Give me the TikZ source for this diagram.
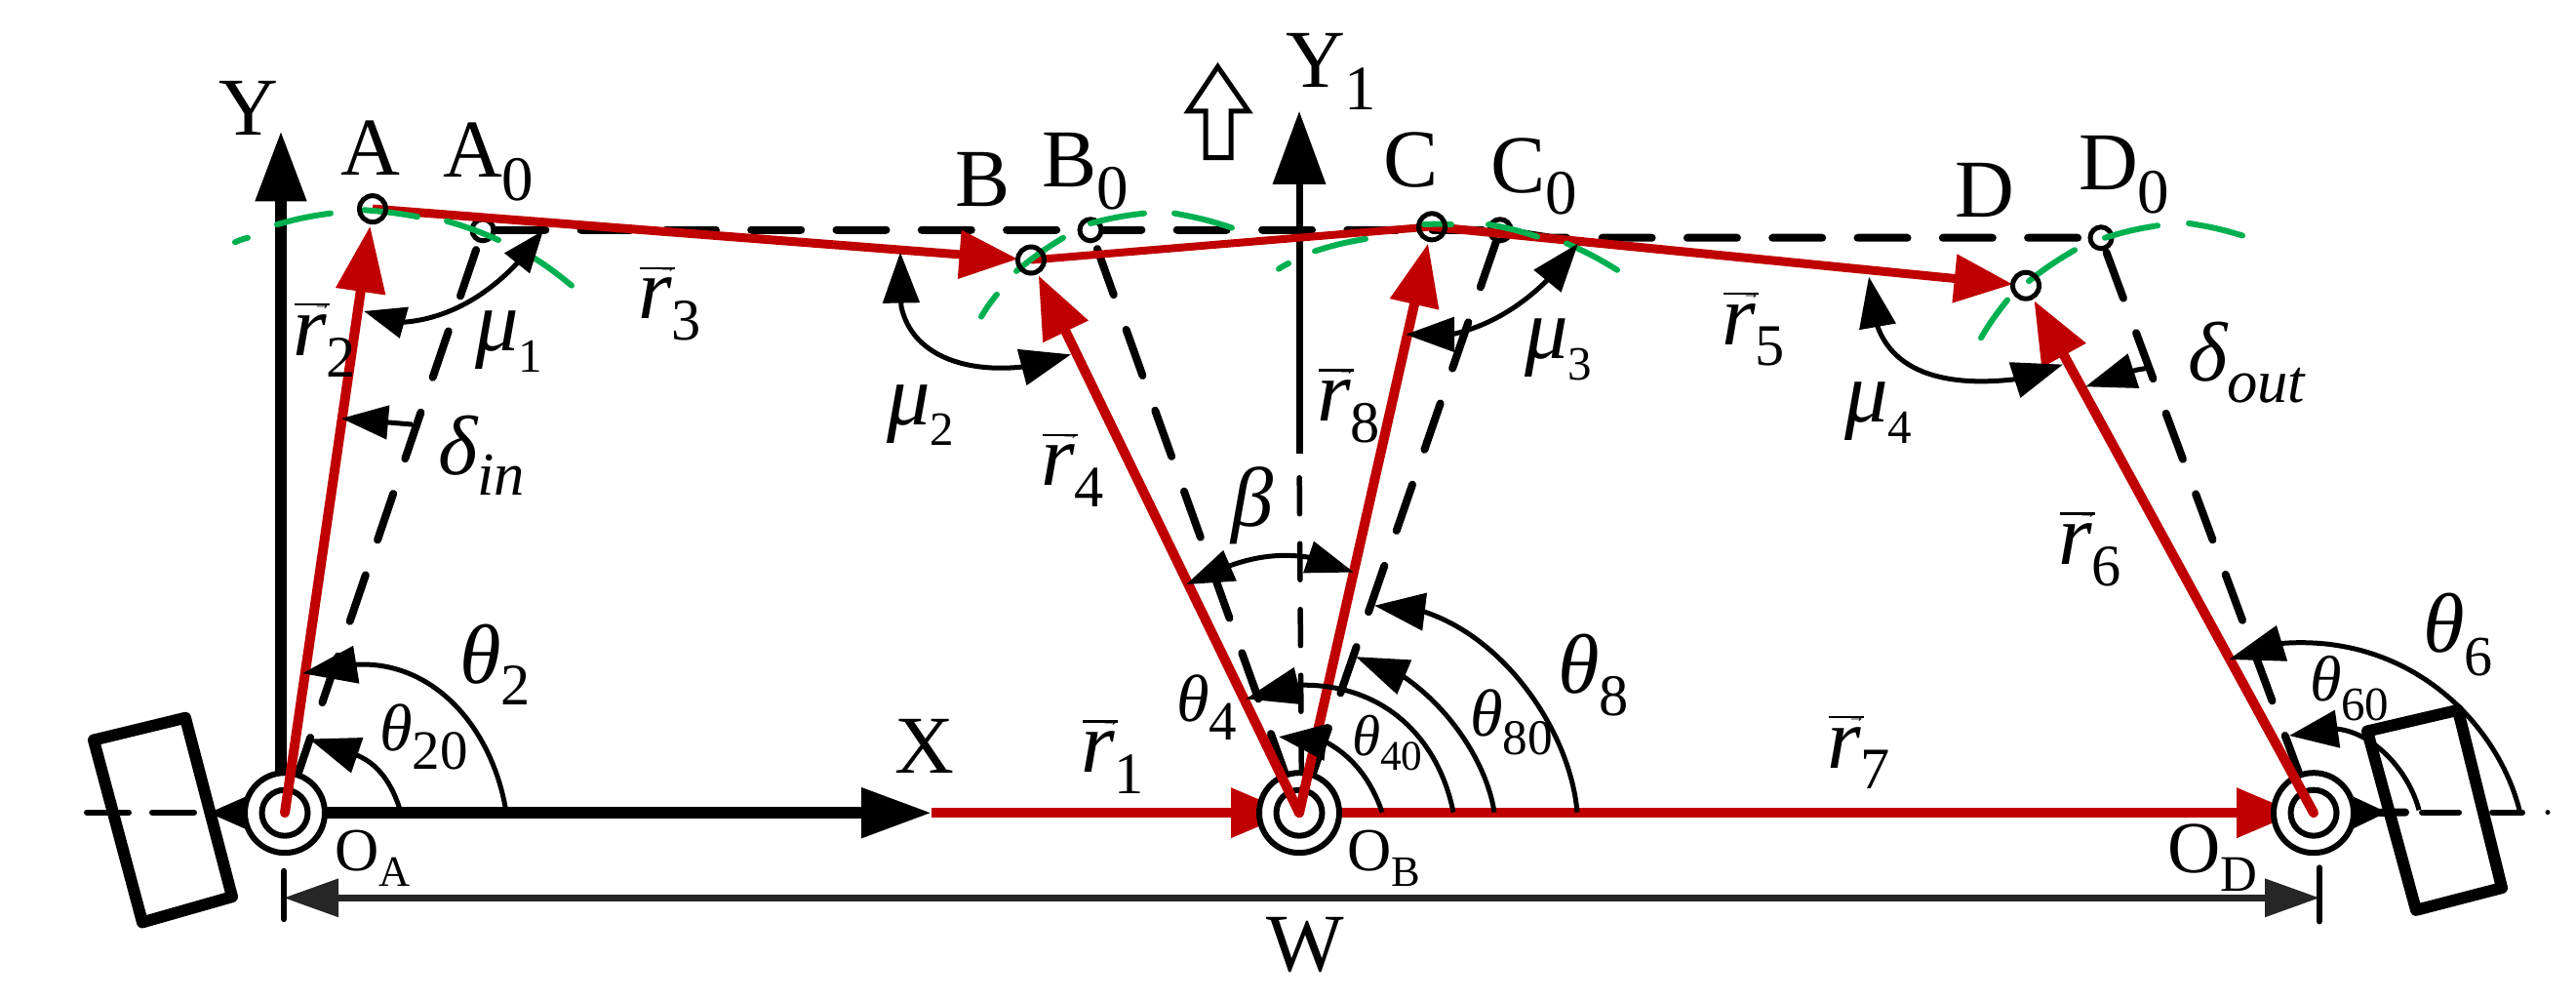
\documentclass[tikz,border=0pt]{standalone}
\usepackage{fontspec}
\setmainfont{Liberation Serif}
\usetikzlibrary{arrows.meta}
\definecolor{rd}{HTML}{C00000}
\definecolor{gn}{HTML}{00B050}
\definecolor{dimc}{HTML}{262626}
\pgfdeclarelayer{bot}
\pgfdeclarelayer{mid}
\pgfdeclarelayer{hub}
\pgfdeclarelayer{top}
\pgfsetlayers{bot,mid,hub,main,top}
\newcommand\fs[1]{\fontsize{\fpeval{#1*1.139}}{\fpeval{#1*1.139}}\selectfont}
\newcommand\sbs[3]{\raisebox{-\fpeval{#2*1.139}pt}{\fs{#1}#3}}
\newcommand\rv[1]{\makebox[0pt][l]{\hspace{2pt}\raisebox{51pt}{\rule{36pt}{2.2pt}}}\makebox[0pt][l]{\hspace{21pt}\raisebox{47pt}{\fs{16}→}}{\fs{78}\itshape r}\sbs{53}{19}{#1}}
\newcommand\gk[2]{{\fs{#1}\itshape #2}}
\tikzset{
  lbl/.style={anchor=base west,inner sep=0pt,outer sep=0pt,font=\fs{74}},
  hubo/.style={circle,draw=black,fill=white,line width=6pt,minimum size=82pt,inner sep=0pt,outer sep=0pt},
  hubi/.style={circle,draw=black,line width=6pt,minimum size=47pt,inner sep=0pt,outer sep=0pt},
  joint/.style={circle,draw=black,line width=5pt,minimum size=27pt,inner sep=0pt,outer sep=0pt},
  joint0/.style={circle,draw=black,fill=white,line width=5pt,minimum size=22pt,inner sep=0pt,outer sep=0pt},
  redarr/.style={draw=rd,line width=10pt,line cap=round,shorten >=4pt,-{Triangle[length=64pt,width=49pt,color=rd]}},
  redh/.style={draw=rd,line width=10pt,-{Triangle[length=62pt,width=49pt,color=rd]}},
  redt/.style={draw=rd,line width=9pt,-{Triangle[length=60pt,width=48pt,color=rd]}},
  axis/.style={draw=black,line width=11.5pt},
  dsh/.style={draw=black,line width=8pt,line cap=round,dash pattern=on 50pt off 38pt,dash phase=#1},
  ang/.style n args={2}{draw=black,line width=5pt,-{Triangle[length=#1,width=#2]}},
  angd/.style n args={2}{draw=black,line width=5pt,{Triangle[length=#1,width=#2]}-{Triangle[length=#1,width=#2]}},
  grn/.style={draw=gn,line width=6pt,line cap=round},
  tire/.style={draw=black,line width=12pt,line join=round},
}
\begin{document}
\begin{tikzpicture}[x=1pt,y=-1.139pt]
\useasboundingbox (0,0) rectangle (2641,899.9);
% named points
\coordinate (Ya) at (288,731);
\coordinate (Yt) at (288,118);
\coordinate (Xa) at (291,731.5);
\coordinate (Xt) at (955,731.5);
\coordinate (Y1a) at (1332,408);
\coordinate (Y1t) at (1332,100);
\coordinate (Y1b) at (1334.5,720);
\coordinate (Ck) at (1590,214);
\coordinate (TL) at (213,731.5);
\coordinate (TR) at (2447,731);
\coordinate (TRb) at (2466,731);
\coordinate (DL) at (291,808);
\coordinate (DR) at (2378,808);
% hubs and joints
\begin{pgfonlayer}{hub}
\node[hubo] (OA) at (292,731.5) {};
\node[hubo] (OB) at (1332,731.5) {};
\node[hubo] (OD) at (2372,731.5) {};
\node[hubi] (OAi) at (292,731.5) {};
\node[hubi] (OBi) at (1332,731.5) {};
\node[hubi] (ODi) at (2372,731.5) {};
\end{pgfonlayer}
\begin{pgfonlayer}{mid}
\node[joint0] (A0) at (495,207) {};
\node[joint0] (B0) at (1118,207) {};
\node[joint0] (C0) at (1538,207) {};
\node[joint0] (D0) at (2154,214) {};
\end{pgfonlayer}
\begin{pgfonlayer}{top}
\node[joint] (A) at (382,188) {};
\node[joint] (B) at (1057,234) {};
\node[joint] (C) at (1468,204) {};
\node[joint] (D) at (2077,257) {};
\end{pgfonlayer}
% bottom layer: centre lines, axes, dashed reference linkage
\begin{pgfonlayer}{bot}
\draw[axis,-{Triangle[length=72pt,width=50pt]}] (Ya) -- (Yt);
\draw[axis,-{Triangle[length=72pt,width=49pt]}] (Xa) -- (Xt);
\draw[draw=black,line width=7pt,-{Triangle[length=75pt,width=53pt]}] (Y1a) -- (Y1t);
\draw[draw=black,line width=5.5pt,line cap=round,dash pattern=on 37pt off 30.5pt,dash phase=42.5pt] (Y1a) -- (Y1b);
\draw[draw=black,line width=8pt,line cap=round,dash pattern=on 51pt off 36.3pt,dash phase=74pt]
  (A0.center) -- (B0.center) -- (C0.center) -- (Ck) -- (D0.center);
\draw[dsh=66.5pt] (A0.center) -- (OA.center);
\draw[dsh=67.5pt] (B0.center) -- (OB.center);
\draw[dsh=76pt] (C0.center) -- (OB.center);
\draw[dsh=72pt] (D0.center) -- (OD.center);
\draw[draw=black,line width=6pt,line cap=round,dash pattern=on 43pt off 24pt] (89,731) -- (200,731);
\draw[draw=black,line width=6pt,line cap=round,dash pattern=on 38pt off 34pt] (2483,731) -- (2586,731);
\fill[black] (2612,731) circle[radius=2.5pt];
\draw[axis,-{Triangle[length=62pt,width=50pt]}] (OA.center) -- (TL);
\draw[draw=black,line width=8pt,line cap=round] (OD.center) -- (TRb);
\draw[draw=black,line width=1pt,-{Triangle[length=36pt,width=34pt]}] (OD.center) -- (TR);
\draw[redh,shorten >=-33pt] (Xt) -- (OB);
\draw[redh,shorten >=-24pt] (OB.center) -- (OD);
\end{pgfonlayer}
% red vectors
\draw[redarr,{}-{Triangle[length=68pt,width=49pt,color=rd]}] (OA.center) -- (A);
\draw[redarr] (OB.center) -- (B);
\draw[redarr] (OB.center) -- (C);
\draw[redarr] (OD.center) -- (D);
\draw[redt] (A.center) -- (B);
\draw[draw=rd,line width=8pt] (B.center) -- (C.center);
\draw[redt] (C.center) -- (D);
% green arcs
\draw[grn] (241,218) to[bend left=6] (254,214);
\draw[grn] (284,202) to[bend left=4] (339,192);
\draw[grn] (373,189) to[bend left=3] (428,195);
\draw[grn] (458,199) to[bend left=4] (511,216);
\draw[grn] (540,228) to[bend left=4] (586,257);
\draw[grn] (1006,285) to[bend left=4] (1022,265);
\draw[grn] (1042,244) to[bend left=4] (1090,214);
\draw[grn] (1118,201) to[bend left=4] (1173,192);
\draw[grn] (1204,192) to[bend left=4] (1263,205);
\draw[grn] (1311,242) to[bend left=4] (1321,237);
\draw[grn] (1348,226) to[bend left=4] (1400,215);
\draw[grn] (1460,202) to[bend left=3] (1488,202);
\draw[grn] (1526,202) to[bend left=4] (1576,213);
\draw[grn] (1606,219) to[bend left=4] (1658,243);
\draw[grn] (2031,304) to[bend left=4] (2058,270);
\draw[grn] (2080,253) to[bend left=4] (2127,225);
\draw[grn] (2158,214) to[bend left=4] (2212,203);
\draw[grn] (2244,201) to[bend left=4] (2299,212);
% angle marks
\begin{pgfonlayer}{top}
\draw[ang={56pt}{38pt}] (519,731) .. controls (505,655) and (445,595) .. (366,598) -- (310,606);
\draw[ang={52pt}{37pt}] (411,731) .. controls (402,705) and (388,688) .. (367,680) -- (317,665);
\draw[angd={43pt}{32pt}] (373,280) -- (413,290) .. controls (460,287) and (500,265) .. (530,237) -- (557,207.5);
\draw[ang={48pt}{34pt}] (423,382) -- (350,376.5);
\draw[angd={49pt}{33pt}] (1216,526) -- (1261,509) .. controls (1290,500) and (1315,498) .. (1342,501.5) -- (1388,515);
\draw[ang={56pt}{38pt}] (1490,731) .. controls (1475,665) and (1420,616) .. (1335,616.5) -- (1277,629);
\draw[ang={49pt}{37pt}] (1417,731) .. controls (1405,700) and (1385,680) .. (1360,668) -- (1311,663);
\draw[ang={54pt}{37pt}] (1532,731) .. controls (1525,690) and (1490,640) .. (1440,609.5) -- (1390,591);
\draw[ang={52pt}{38pt}] (1617,731) .. controls (1610,660) and (1545,575) .. (1460,550.5) -- (1409,545);
\draw[angd={52pt}{37pt}] (923,227) -- (924,276) .. controls (935,320) and (990,336) .. (1050,330) -- (1098,319);
\draw[angd={50pt}{35pt}] (1441,301) -- (1488,301) .. controls (1530,293) and (1565,272) .. (1592,247) -- (1618,219);
\draw[angd={52pt}{37pt}] (1916,249) -- (1925,294) .. controls (1940,330) and (1985,350) .. (2069,341) -- (2115,328);
\draw[ang={52pt}{36pt}] (2203,331) -- (2190,333) -- (2138,348);
\draw[ang={57pt}{37pt}] (2583,729) .. controls (2560,650) and (2470,570) .. (2339,579) -- (2285,593.5);
\draw[ang={50pt}{38pt}] (2480,729) .. controls (2470,695) and (2435,660) .. (2396.5,656) -- (2347,662);
% tires
\draw[tire] (96,666) -- (190,646) -- (238,807) -- (146,830) -- cycle;
\draw[tire] (2427,658) -- (2520,639) -- (2565,799) -- (2477,819) -- cycle;
% hollow arrow
\draw[draw=black,fill=white,line width=5pt,line join=miter] (1248.5,60) -- (1280,100) -- (1262,100) -- (1262,142) -- (1236,142) -- (1236,100) -- (1218,100) -- cycle;
% width dimension
\draw[draw=dimc,line width=6.5pt,{Triangle[length=56pt,width=38pt,color=dimc]}-{Triangle[length=56pt,width=38pt,color=dimc]}] (DL) -- (DR);
\draw[draw=black,line width=6.5pt,line cap=round] (291,784) -- (291,827);
\draw[draw=black,line width=6.5pt,line cap=round] (2378,781) -- (2378,829);
\end{pgfonlayer}
% labels
\node[lbl] (lY) at (224,122) {Y};
\node[lbl] (lA) at (349,158) {A};
\node[lbl] (lA0) at (454,159) {A\sbs{57}{21}{0}};
\node[lbl] (lr2) at (300,320) {\rv{2}};
\node[lbl] (lm1) at (487,316) {\gk{78}{μ}\sbs{43}{19}{1}};
\node[lbl] (lr3) at (654,287) {\rv{3}};
\node[lbl] (ldi) at (449,427) {\gk{76}{δ}\sbs{55}{19}{\itshape in}};
\node[lbl] (lt2) at (471,615) {\gk{76}{θ}\sbs{53}{19}{2}};
\node[lbl] (lt20) at (389,676) {\gk{60}{θ}\sbs{50}{16}{20}};
\node[lbl,font=\fs{55}] (lOA) at (343,784) {O\sbs{39}{14}{A}};
\node[lbl] (lX) at (917,696) {X};
\node[lbl] (lr1) at (1108,695) {\rv{1}};
\node[lbl] (lY1) at (1318,79) {Y\sbs{57}{20}{1}};
\node[lbl] (lB) at (979,186) {B};
\node[lbl] (lB0) at (1068,168) {B\sbs{57}{20}{0}};
\node[lbl] (lC) at (1418,168) {C};
\node[lbl] (lC0) at (1528,173) {C\sbs{57}{20}{0}};
\node[lbl] (lm2) at (909,382) {\gk{78}{μ}\sbs{43}{19}{2}};
\node[lbl] (lr4) at (1067,437) {\rv{4}};
\node[lbl] (lr8) at (1350,379) {\rv{8}};
\node[lbl] (lm3) at (1563,323) {\gk{78}{μ}\sbs{43}{19}{3}};
\node[lbl] (lb) at (1262,474) {\gk{76}{β}};
\node[lbl] (lt4) at (1206,649) {\gk{60}{θ}\sbs{50}{17}{4}};
\node[lbl] (lt40) at (1386,680) {\gk{52}{θ}\sbs{38}{13}{40}};
\node[lbl] (lt80) at (1507,662) {\gk{60}{θ}\sbs{45}{17}{80}};
\node[lbl] (lt8) at (1597,624) {\gk{76}{θ}\sbs{53}{20}{8}};
\node[lbl] (lW) at (1298,874) {W};
\node[lbl,font=\fs{55}] (lOB) at (1381,784) {O\sbs{39}{14}{B}};
\node[lbl] (lr5) at (1765,310) {\rv{5}};
\node[lbl] (lD) at (2004,195) {D};
\node[lbl] (lD0) at (2131,171) {D\sbs{57}{21}{0}};
\node[lbl] (ldo) at (2243,343) {\gk{76}{δ}\sbs{55}{19}{\itshape out}};
\node[lbl] (lm4) at (1891,380) {\gk{78}{μ}\sbs{43}{19}{4}};
\node[lbl] (lr6) at (2110,508) {\rv{6}};
\node[lbl] (lr7) at (1873,691) {\rv{7}};
\node[lbl] (lt6) at (2484,587) {\gk{76}{θ}\sbs{51}{21}{6}};
\node[lbl] (lt60) at (2368,631) {\gk{58}{θ}\sbs{43}{17}{60}};
\node[lbl,font=\fs{66}] (lOD) at (2222,785) {O\sbs{46}{17}{D}};
\end{tikzpicture}
\end{document}
